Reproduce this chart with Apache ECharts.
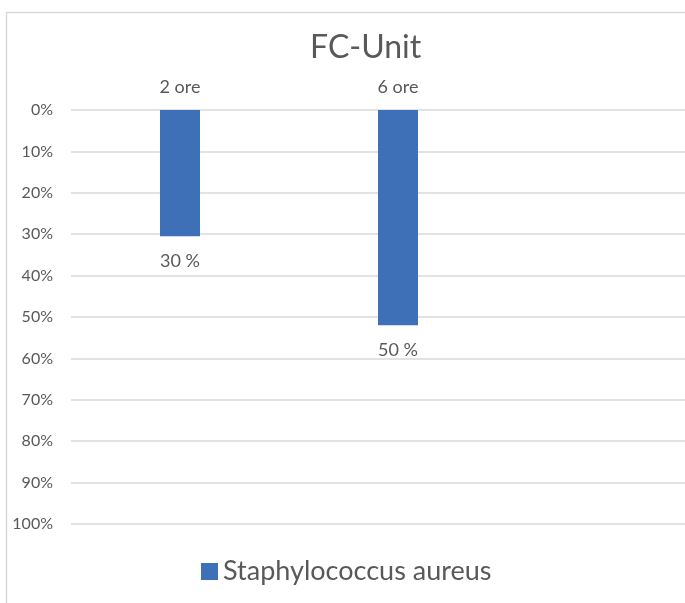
<!DOCTYPE html>
<html>
<head>
<meta charset="utf-8">
<script src="https://cdn.jsdelivr.net/npm/echarts@6/dist/echarts.min.js"></script>
<style>html,body{margin:0;padding:0;background:#fff;overflow:hidden;width:685px;height:603px;}#c{width:730px;height:603px;}</style>
</head>
<body>
<div id="c"></div>
<script>
const categories = ['2 ore', '6 ore', ''];
const seriesName = 'Staphylococcus aureus';
const values = [30.5, 52, null];
const valueLabels = ['30 %', '50 %', ''];
const yTicks = [0, 10, 20, 30, 40, 50, 60, 70, 80, 90, 100];

const FONT = 'Lato, "Open Sans", sans-serif';
const TXT = '#595959';
const chart = echarts.init(document.getElementById('c'), null, {renderer: 'canvas'});
chart.setOption({
  animation: false,
  backgroundColor: '#fff',
  title: {
    text: 'FC-Unit', left: 305, top: 27,
    textStyle: {fontFamily: FONT, fontSize: 32, fontWeight: 'normal', color: TXT}
  },
  graphic: [{
    type: 'rect', shape: {x: 6.5, y: 12.5, width: 720, height: 620},
    style: {fill: 'none', stroke: '#d9d9d9', lineWidth: 1.5}, z: -1
  }],
  legend: {
    data: [seriesName], left: 196, top: 553,
    icon: 'rect', itemWidth: 17, itemHeight: 17, itemGap: 8,
    textStyle: {fontFamily: FONT, fontSize: 27, color: TXT}
  },
  grid: {left: 71, top: 110, height: 414, width: 654, containLabel: false},
  xAxis: {
    type: 'category', data: categories, position: 'top',
    axisLine: {show: false}, axisTick: {show: false},
    axisLabel: {fontFamily: FONT, fontSize: 18, color: TXT, margin: 14}
  },
  yAxis: {
    type: 'value', inverse: true, min: yTicks[0], max: yTicks[yTicks.length - 1], interval: 10,
    axisLine: {show: false}, axisTick: {show: false},
    axisLabel: {fontFamily: FONT, fontSize: 16, color: TXT, margin: 18, formatter: '{value}%'},
    splitLine: {lineStyle: {color: '#d9d9d9', width: 1.5}}
  },
  series: [{
    name: seriesName, type: 'bar', data: values, barWidth: 40,
    itemStyle: {color: '#3e70b8'},
    label: {
      show: true, position: 'bottom', distance: 16,
      fontFamily: FONT, fontSize: 18, color: TXT,
      formatter: p => valueLabels[p.dataIndex]
    }
  }]
});
</script>
</body>
</html>
